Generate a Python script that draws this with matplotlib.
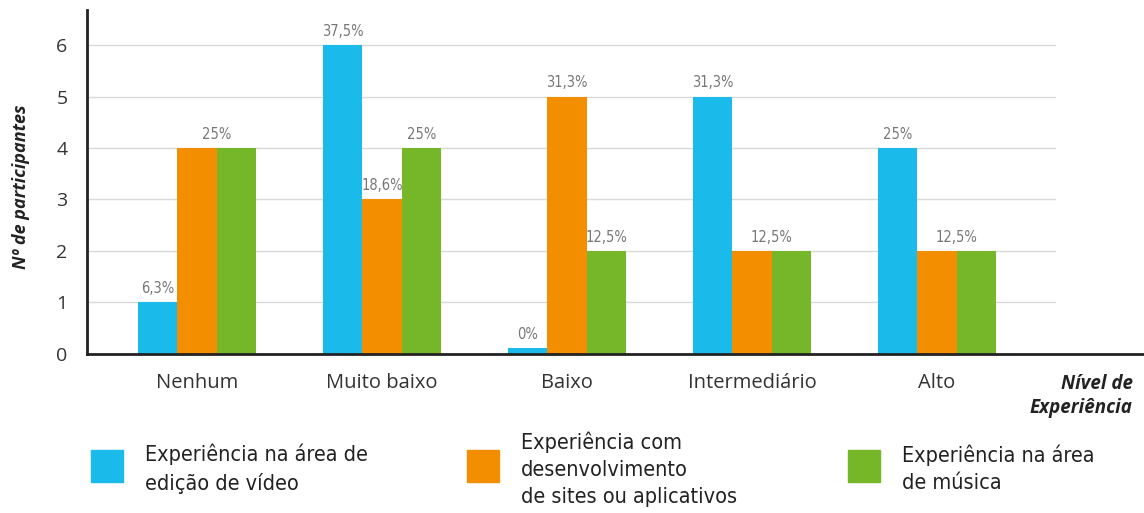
import numpy as np
import matplotlib.pyplot as plt
from matplotlib.patches import Rectangle

niveis = ["Nenhum", "Muito baixo", "Baixo", "Intermediário", "Alto"]
video = [1, 6, 0, 5, 4]
sites = [4, 3, 5, 2, 2]
musica = [4, 4, 2, 2, 2]

# rotulos de percentagem (None = sem rotulo)
pct_video = ["6,3%", "37,5%", "0%", "31,3%", "25%"]
pct_sites = [None, "18,6%", "31,3%", None, None]
pct_musica = [None, "25%", "12,5%", None, None]
pct_comum = ["25%", None, None, "12,5%", "12,5%"]  # entre laranja e verde

series_nomes = ["Experiência na área de\nedição de vídeo",
                "Experiência com\ndesenvolvimento\nde sites ou aplicativos",
                "Experiência na área\nde música"]
cores = ["#1ABBEB", "#F28E00", "#76B72A"]

plt.rcParams['font.family'] = ["Open Sans", "DejaVu Sans"]

fig = plt.figure(figsize=(11.44, 5.13), dpi=100)
ax = fig.add_axes([0.076, 0.31, 0.924, 0.6705])

x = np.arange(len(niveis))
w = 0.213
ax.set_xlim(-0.595, 5.12)
ax.set_ylim(0, 6.68)

for y in range(1, 7):
    ax.axhline(y, xmin=0, xmax=(4.64 + 0.595) / (5.12 + 0.595), color="#D9D9D9", lw=1, zorder=0)

dados = [video, sites, musica]
for i, (vals, cor) in enumerate(zip(dados, cores)):
    alturas = [max(v, 0.12) for v in vals]
    ax.bar(x + (i - 1) * w, alturas, w, color=cor, zorder=2)

def rot(xp, yp, txt):
    ax.text(xp, yp + 0.12, txt, ha="center", va="bottom", fontsize=10.5,
            color="#777777", family="DejaVu Sans", fontstretch="condensed")

for j in range(len(niveis)):
    if pct_video[j]:
        rot(x[j] - w, max(video[j], 0.12), pct_video[j])
    if pct_sites[j]:
        rot(x[j], sites[j], pct_sites[j])
    if pct_musica[j]:
        rot(x[j] + w, musica[j], pct_musica[j])
    if pct_comum[j]:
        rot(x[j] + w / 2, max(sites[j], musica[j]), pct_comum[j])

ax.set_xticks(x)
ax.set_xticklabels(niveis, fontsize=14.5, color="#333333")
ax.set_yticks(range(0, 7))
ax.set_yticklabels([str(v) for v in range(0, 7)], fontsize=14, color="#333333")
ax.tick_params(axis="both", length=0)
ax.tick_params(axis="x", pad=14)
ax.tick_params(axis="y", pad=14)

for s in ["top", "right"]:
    ax.spines[s].set_visible(False)
for s in ["left", "bottom"]:
    ax.spines[s].set_linewidth(2)
    ax.spines[s].set_color("#222222")

fig.text(0.018, 1 - 187 / 513, "Nº de participantes", rotation=90,
         ha="center", va="center", fontsize=13, fontweight="bold", style="italic",
         color="#222222")
fig.text(0.99, 1 - 396 / 513, "Nível de\nExperiência", ha="right", va="center",
         fontsize=13.5, fontweight="bold", style="italic", color="#222222",
         linespacing=1.25)

# legenda
leg_x = [91, 467, 848]
for lx, cor, nome in zip(leg_x, cores, series_nomes):
    fig.patches.append(Rectangle((lx / 1144, 1 - 482 / 513), 32 / 1144, 32 / 513,
                                 transform=fig.transFigure, color=cor))
    fig.text((lx + 54) / 1144, 1 - 469 / 513, nome, ha="left", va="center",
             fontsize=15.5, color="#222222", family="DejaVu Sans",
             fontstretch="condensed", linespacing=1.45)

fig.savefig("out.png", dpi=100)
